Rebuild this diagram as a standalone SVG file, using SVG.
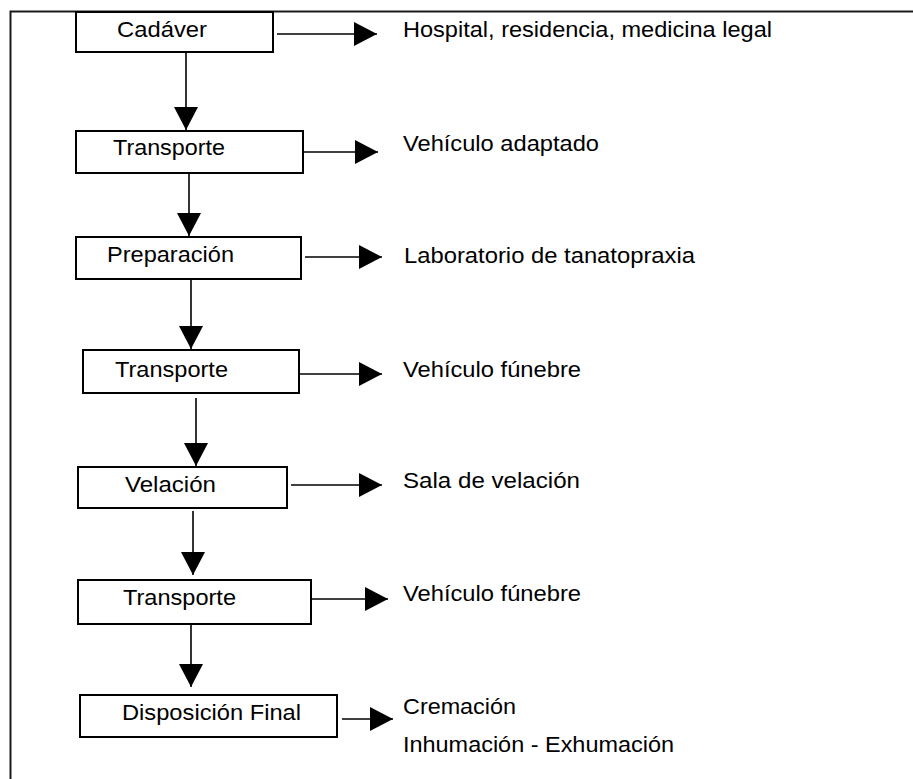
<svg xmlns="http://www.w3.org/2000/svg" width="913" height="779" viewBox="0 0 913 779">
  <style>
    .box { fill: #ffffff; stroke: #000000; stroke-width: 2; }
    .lbl { font-family: "Liberation Sans", Arial, sans-serif; font-size: 22px; fill: #000000; }
    .con { stroke: #000000; stroke-width: 1.6; fill: none; marker-end: url(#ah); }
    .frame { stroke: #1a1a1a; stroke-width: 2; fill: none; }
  </style>
  <defs>
    <marker id="ah" markerUnits="userSpaceOnUse" markerWidth="23" markerHeight="24" refX="23" refY="12" orient="auto">
      <path d="M0,0 L23,12 L0,24 Z" fill="#000000"/>
    </marker>
  </defs>
  <rect width="913" height="779" fill="#ffffff"/>
  <g id="frame">
    <path class="frame" d="M10.5,779 L10.5,11.5 L913,11.5"/>
  </g>
  <g id="connectors">
    <line class="con" x1="277" y1="34" x2="377" y2="34"/>
    <line class="con" x1="298" y1="152" x2="378" y2="152"/>
    <line class="con" x1="305" y1="257" x2="382" y2="257"/>
    <line class="con" x1="295" y1="374" x2="382" y2="374"/>
    <line class="con" x1="291" y1="485" x2="382" y2="485"/>
    <line class="con" x1="312" y1="599" x2="388" y2="599"/>
    <line class="con" x1="342" y1="719" x2="393" y2="719"/>
    <line class="con" x1="186" y1="52" x2="186" y2="130"/>
    <line class="con" x1="189" y1="173" x2="189" y2="236"/>
    <line class="con" x1="191" y1="279" x2="191" y2="349"/>
    <line class="con" x1="196" y1="398" x2="196" y2="466"/>
    <line class="con" x1="193" y1="511" x2="193" y2="575"/>
    <line class="con" x1="191" y1="624" x2="191" y2="687"/>
  </g>
  <g id="n1">
    <rect class="box" x="76" y="12" width="197" height="40"/>
    <text class="lbl" x="117" y="37" textLength="90" lengthAdjust="spacingAndGlyphs">Cadáver</text>
  </g>
  <g id="n2">
    <rect class="box" x="76" y="131" width="227" height="42"/>
    <text class="lbl" x="113" y="155" textLength="112" lengthAdjust="spacingAndGlyphs">Transporte</text>
  </g>
  <g id="n3">
    <rect class="box" x="76" y="237" width="225" height="42"/>
    <text class="lbl" x="107" y="262" textLength="127" lengthAdjust="spacingAndGlyphs">Preparación</text>
  </g>
  <g id="n4">
    <rect class="box" x="83" y="350" width="216" height="43"/>
    <text class="lbl" x="115" y="377" textLength="113" lengthAdjust="spacingAndGlyphs">Transporte</text>
  </g>
  <g id="n5">
    <rect class="box" x="78" y="467" width="209" height="41"/>
    <text class="lbl" x="125" y="492" textLength="91" lengthAdjust="spacingAndGlyphs">Velación</text>
  </g>
  <g id="n6">
    <rect class="box" x="78" y="580" width="233" height="44"/>
    <text class="lbl" x="123" y="605" textLength="113" lengthAdjust="spacingAndGlyphs">Transporte</text>
  </g>
  <g id="n7">
    <rect class="box" x="80" y="695" width="257" height="42"/>
    <text class="lbl" x="122" y="720" textLength="179" lengthAdjust="spacingAndGlyphs">Disposición Final</text>
  </g>
  <g id="labels">
    <text class="lbl" x="403" y="37" textLength="369" lengthAdjust="spacingAndGlyphs">Hospital, residencia, medicina legal</text>
    <text class="lbl" x="403" y="151" textLength="196" lengthAdjust="spacingAndGlyphs">Vehículo adaptado</text>
    <text class="lbl" x="404" y="263" textLength="291" lengthAdjust="spacingAndGlyphs">Laboratorio de tanatopraxia</text>
    <text class="lbl" x="403" y="377" textLength="178" lengthAdjust="spacingAndGlyphs">Vehículo fúnebre</text>
    <text class="lbl" x="403" y="488" textLength="177" lengthAdjust="spacingAndGlyphs">Sala de velación</text>
    <text class="lbl" x="403" y="601" textLength="178" lengthAdjust="spacingAndGlyphs">Vehículo fúnebre</text>
    <text class="lbl" x="403" y="714" textLength="113" lengthAdjust="spacingAndGlyphs">Cremación</text>
    <text class="lbl" x="403" y="752" textLength="271" lengthAdjust="spacingAndGlyphs">Inhumación - Exhumación</text>
  </g>
</svg>
